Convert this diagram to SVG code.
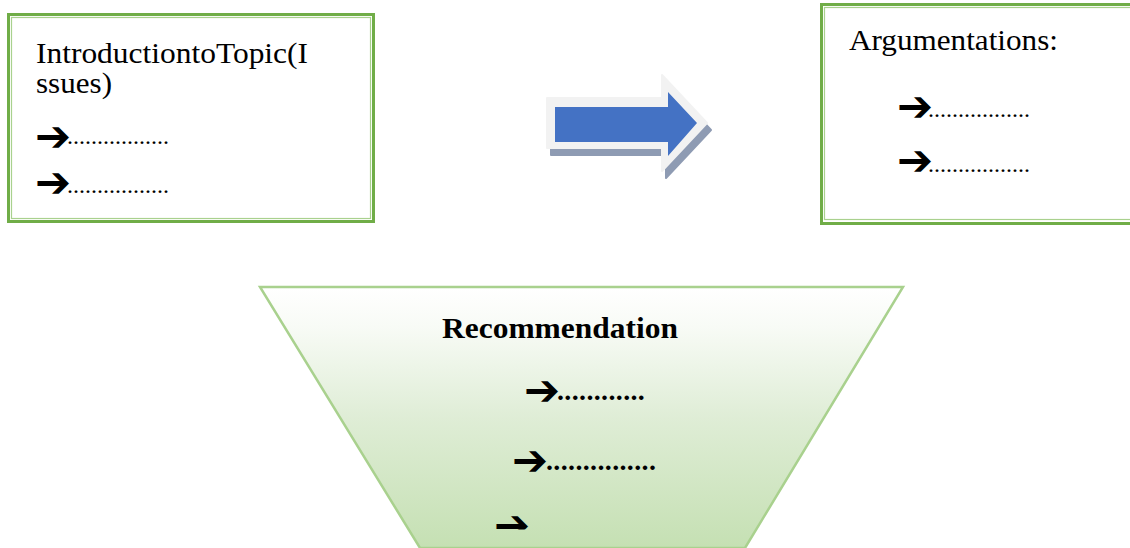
<svg xmlns="http://www.w3.org/2000/svg" width="1130" height="548" viewBox="0 0 1130 548">
  <style>
    .t { font-family: "Liberation Serif", "Times New Roman", serif; fill: #000; }
    .arw { font-family: "DejaVu Sans", sans-serif; font-weight: bold; font-size: 43px; }
    .dots { font-family: "Liberation Serif", "Times New Roman", serif; font-size: 24px; }
    .bdots { font-family: "Liberation Serif", "Times New Roman", serif; font-size: 28px; font-weight: bold; letter-spacing: 0.35px; }
    .outer { fill: #fff; stroke: #70AD47; stroke-width: 3; }
    .inner { fill: none; stroke: #A9D18E; stroke-width: 1.2; }
  </style>
  <defs>
    <linearGradient id="funnelGrad" x1="0" y1="0" x2="0" y2="1">
      <stop offset="0" stop-color="#FFFFFF"/>
      <stop offset="0.15" stop-color="#F8FBF6"/>
      <stop offset="0.5" stop-color="#DFEDD6"/>
      <stop offset="1" stop-color="#C5E0B3"/>
    </linearGradient>
    <clipPath id="clipLast">
      <rect x="400" y="480" width="300" height="49.5"/>
    </clipPath>
  </defs>

  <g id="intro">
    <rect class="outer" x="8.5" y="14.5" width="365" height="207"/>
    <rect class="inner" x="11.5" y="17.5" width="359" height="201"/>
    <text class="t" x="36" y="63" font-size="30" textLength="272" lengthAdjust="spacingAndGlyphs">IntroductiontoTopic(I</text>
    <text class="t" x="36" y="93" font-size="30" textLength="76" lengthAdjust="spacingAndGlyphs">ssues)</text>
    <text class="t"><tspan class="arw" x="35" y="150.5">➔</tspan><tspan class="dots" x="67" y="144">.................</tspan></text>
    <text class="t"><tspan class="arw" x="35" y="197">➔</tspan><tspan class="dots" x="67" y="193">.................</tspan></text>
  </g>

  <g id="connectors">
    <g id="blockArrow">
      <polygon points="551,105 666,105 666,82 711,130 666,178 666,155 551,155" fill="#8E9BB3" stroke="#8E9BB3" stroke-width="2" stroke-linejoin="round"/>
      <polygon points="547,98 662,98 662,75 707,123 662,171 662,148 547,148" fill="#F2F2F2" stroke="#F2F2F2" stroke-width="2" stroke-linejoin="round"/>
      <polygon points="555,107 668,107 668,92 697,123 668,156 668,142 555,142" fill="#4472C4"/>
    </g>
  </g>

  <g id="argumentations">
    <rect class="outer" x="821.5" y="4.5" width="320" height="219"/>
    <rect class="inner" x="824.5" y="7.5" width="314" height="212"/>
    <text class="t" x="849" y="50" font-size="30" textLength="209" lengthAdjust="spacingAndGlyphs">Argumentations:</text>
    <text class="t"><tspan class="arw" x="897" y="121">➔</tspan><tspan class="dots" x="928" y="117">.................</tspan></text>
    <text class="t"><tspan class="arw" x="897" y="175">➔</tspan><tspan class="dots" x="928" y="172">.................</tspan></text>
  </g>

  <g id="recommendation">
    <polygon points="260,287 903,287 745,548 420,548" fill="url(#funnelGrad)" stroke="#A9D18E" stroke-width="2.5" stroke-linejoin="miter"/>
    <text class="t" x="442" y="338" font-size="29" font-weight="bold" textLength="236" lengthAdjust="spacingAndGlyphs">Recommendation</text>
    <text class="t"><tspan class="arw" x="524" y="405">➔</tspan><tspan class="bdots" x="557" y="400">............</tspan></text>
    <text class="t"><tspan class="arw" x="512" y="475">➔</tspan><tspan class="bdots" x="546" y="470">...............</tspan></text>
    <text class="t arw" x="494" y="540" clip-path="url(#clipLast)">➔</text>
  </g>
</svg>
